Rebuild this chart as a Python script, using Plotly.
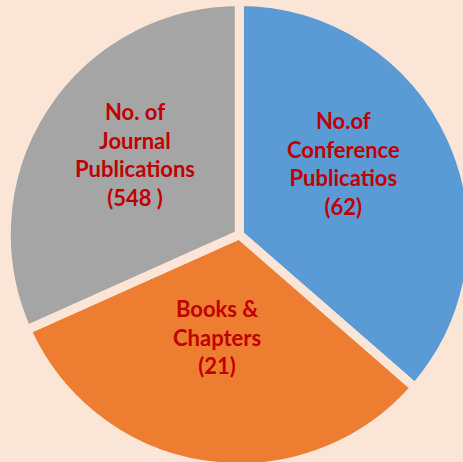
import plotly.graph_objects as go

# Data
categories = ["No.of<br>Conference<br>Publicatios", "Books &<br>Chapters", "No. of<br>Journal<br>Publications"]
counts = ["62", "21", "548 "]
slice_share = [36.4, 31.9, 31.7]  # slice angles as drawn (percent of circle)
colors = ["#5B9BD5", "#ED7D31", "#A5A5A5"]

BG = "#FBE5D6"
W, H = 480, 480

fig = go.Figure(go.Pie(
    values=slice_share,
    labels=[c.replace("<br>", " ") for c in categories],
    sort=False,
    direction="clockwise",
    rotation=0,
    marker=dict(colors=colors, line=dict(color=BG, width=9)),
    textinfo="none",
    hoverinfo="label",
    showlegend=False,
    domain=dict(x=[(239.3 - 233) / W, (239.3 + 233) / W],
                y=[(H - 467.6) / H, (H - 1.6) / H]),
))

# label positions in pixels (x, y from top)
label_pos = [(343, 163), (217, 337), (135, 154)]
for cat, cnt, (px, py) in zip(categories, counts, label_pos):
    fig.add_annotation(
        x=px / W, y=1 - py / H, xref="paper", yref="paper",
        text=f"<b>{cat}<br>({cnt})</b>", showarrow=False,
        font=dict(family="Lato", size=22, color="#C00000", weight=800),
        align="center", xanchor="center", yanchor="middle",
    )

fig.update_layout(
    width=W, height=H,
    margin=dict(l=0, r=0, t=0, b=0),
    paper_bgcolor=BG, plot_bgcolor=BG,
)

fig.write_html("out.html", config={"displayModeBar": False},
               post_script="document.body.style.margin='0';document.body.style.overflow='hidden';document.documentElement.style.overflow='hidden';document.body.style.background='" + BG + "';")
